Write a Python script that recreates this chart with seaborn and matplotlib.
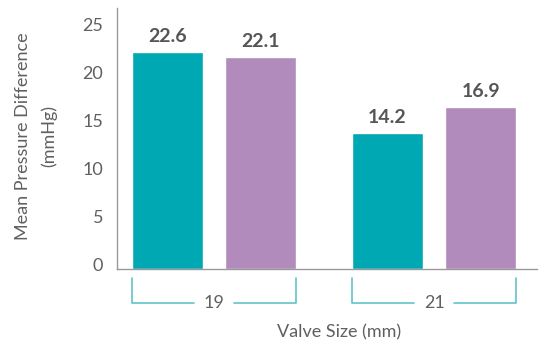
import pandas as pd
import matplotlib
matplotlib.use("Agg")
import matplotlib.pyplot as plt
import matplotlib.transforms as mtransforms
import seaborn as sns

# Chart data
valve_sizes = ["19", "21"]
series_names = ["A", "B"]
values_a = [22.6, 14.2]
values_b = [22.1, 16.9]
y_ticks = [0, 5, 10, 15, 20, 25]

teal = "#00A8B4"
purple = "#B08BBB"
bracket_color = "#5FC3CB"
text_gray = "#555555"
light_gray = "#606060"

df = pd.DataFrame({
    "size": valve_sizes * 2,
    "series": [series_names[0]] * 2 + [series_names[1]] * 2,
    "value": values_a + values_b,
})

sns.set_style("white")
plt.rcParams["font.family"] = ["Lato", "DejaVu Sans"]

fig = plt.figure(figsize=(5.42, 3.43), dpi=100)
ax = fig.add_axes([0.216, 0.2157, 0.775, 0.761])

sns.barplot(data=df, x="size", y="value", hue="series", order=valve_sizes,
            hue_order=series_names, palette=[teal, purple], width=0.85,
            gap=0.24, legend=False, ax=ax, saturation=1)

x_lo, x_hi = -0.441, 1.468
ax.set_xlim(x_lo, x_hi)
ax.set_ylim(0, 27.2)
ax.set_yticks(y_ticks)
ax.set_xlabel("")
ax.set_ylabel("")

for side in ["top", "right"]:
    ax.spines[side].set_visible(False)
for side in ["left", "bottom"]:
    ax.spines[side].set_color("#999999")
    ax.spines[side].set_linewidth(1.0)

ax.tick_params(axis="y", length=0, pad=10, labelsize=13, labelcolor=light_gray)
# shift y tick labels up a little, like the original
offset = mtransforms.ScaledTranslation(0, 5 / 100, fig.dpi_scale_trans)
for lbl in ax.get_yticklabels():
    lbl.set_transform(lbl.get_transform() + offset)

# x ticks only at the group boundaries
ax.set_xticks([])
ax.set_xticks([x_lo, 0.495, x_hi], minor=True)
ax.tick_params(axis="x", which="minor", length=6, width=1.0, color="#999999",
               direction="out")

# value labels above bars
for container in ax.containers:
    ax.bar_label(container, fmt="%.1f", padding=5, fontsize=14,
                 fontweight="bold", color=text_gray)

# brackets under each group
trans = mtransforms.blended_transform_factory(ax.transData, ax.transAxes)
bars = sorted(ax.patches, key=lambda p: p.get_x())
for i, label in enumerate(valve_sizes):
    group = [p for p in bars if abs(p.get_x() + p.get_width() / 2 - i) < 0.5]
    left = min(p.get_x() for p in group)
    right = max(p.get_x() + p.get_width() for p in group)
    mid = (left + right) / 2
    y_top, y_bot = -0.034, -0.13
    gap = 0.09
    ax.plot([left, left, mid - gap], [y_top, y_bot, y_bot], color=bracket_color,
            lw=1.2, transform=trans, clip_on=False)
    ax.plot([mid + gap, right, right], [y_bot, y_bot, y_top], color=bracket_color,
            lw=1.2, transform=trans, clip_on=False)
    ax.text(mid, y_bot, label, transform=trans, ha="center", va="center",
            fontsize=13, color=light_gray)

fig.text(339 / 542, 1 - 332 / 343, "Valve Size (mm)", ha="center", va="center",
         fontsize=13, color=light_gray)
fig.text(36 / 542, 1 - 136 / 343, "Mean Pressure Difference\n(mmHg)",
         rotation=90, ha="center", va="center", multialignment="center",
         fontsize=13, color=light_gray, linespacing=1.75)

fig.savefig("out.png", dpi=100)
